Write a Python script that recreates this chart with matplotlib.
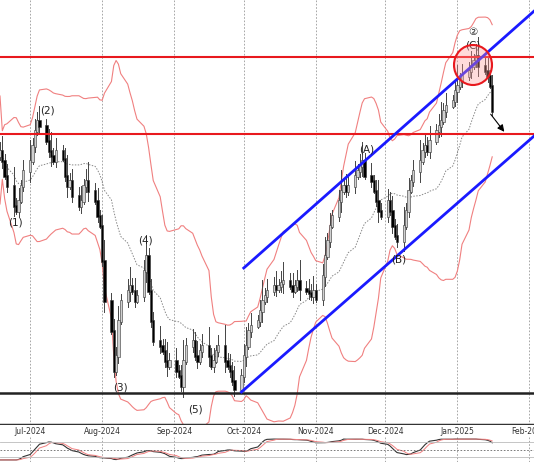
import numpy as np
import pandas as pd
import matplotlib
matplotlib.use("Agg")
import matplotlib.pyplot as plt
import matplotlib.dates as mdates
from matplotlib.patches import Ellipse

# closes, in chart units (screen-like: smaller = higher price)
closes = [150, 160, 175, 185, 205, 210, 200, 185, 170, 160,
          145, 130, 120, 125, 140, 150,
          155, 160, 150, 158, 175, 185, 180, 195, 205, 200, 185, 180, 190, 200, 215, 225,
          260, 300, 330, 370, 355, 320, 300, 290, 285, 290, 300, 295, 270, 255, 290, 320, 340, 345, 350, 360, 365, 360,
          370, 375, 385, 360, 345, 340, 355, 360, 350, 345, 355, 365, 360, 350, 345, 360, 365, 370, 380, 388,
          375, 355, 345, 330, 325, 320, 310, 300, 295, 290, 285, 288, 285, 282, 280, 285, 290, 285, 280, 288, 290, 292, 295,
          290, 298, 275, 255, 240, 225, 215, 200, 190, 185, 190, 185, 175, 170, 165, 160, 175, 180, 190, 200, 210,
          215, 200, 210, 225, 235, 240, 225, 210, 190, 180, 170, 160, 150, 145, 150, 140, 130, 125, 120, 110, 105,
          100, 90, 85, 80, 75, 70, 65, 60, 55, 65, 70, 75, 85, 110]
wicks = [8, 14, 6, 11, 18, 7, 12, 5, 10, 20, 7, 11]
dates = pd.bdate_range("2024-06-18", periods=len(closes))

months = ["2024-07-01", "2024-08-01", "2024-09-01", "2024-10-01", "2024-11-01",
          "2024-12-01", "2025-01-01", "2025-02-01"]
month_labels = ["Jul-2024", "Aug-2024", "Sep-2024", "Oct-2024", "Nov-2024",
                "Dec-2024", "Jan-2025", "Feb-2025"]

# horizontal levels and channel lines (chart units)
red_levels = [57, 134]
black_level = 393
chan_upper = (["2024-10-01", "2025-02-06"], [268, 5])
chan_lower = (["2024-09-30", "2025-02-06"], [392, 130])

waves = [("(1)", 15, 222), ("(2)", 47, 110), ("(3)", 120, 387), ("(4)", 145, 240),
         ("(5)", 195, 410), ("(A)", 367, 149), ("(B)", 399, 259), ("(C)", 473, 45),
         ("②", 473, 32)]

x0 = mdates.date2num(pd.Timestamp("2024-06-18"))
days_per_px = 230 / 534.0


def px(x):
    return x0 + x * days_per_px


fig = plt.figure(figsize=(5.34, 4.62), dpi=100)
ax = fig.add_axes([0, 37 / 462, 1, 425 / 462])
osc = fig.add_axes([0, 0, 1, 25 / 462])

xs = mdates.date2num(dates)
c = np.array(closes, dtype=float)
o = np.r_[c[0] + 5, c[:-1]]
for i, (xi, oi, ci) in enumerate(zip(xs, o, c)):
    w = wicks[i % len(wicks)]
    lo_px = max(oi, ci) + w * 0.6
    hi_px = min(oi, ci) - w
    ax.plot([xi, xi], [hi_px, lo_px], color="#444444", lw=0.7, zorder=3)
    up = ci < oi
    ax.bar(xi, abs(ci - oi) + 1.5, bottom=min(oi, ci), width=1.0,
           color="#d0d0d0" if up else "black", edgecolor="#333333", lw=0.4, zorder=4)

s = pd.Series(c)
mid = s.rolling(20, min_periods=1).mean()
sd = s.rolling(20, min_periods=2).std().fillna(20)
ax.plot(xs, mid, color="#888888", lw=0.7, ls=(0, (1.5, 1.5)), zorder=2)
ax.plot(xs, mid + 2.3 * sd + 8, color="#f08080", lw=0.8, zorder=2)
ax.plot(xs, mid - 2.3 * sd - 8, color="#f08080", lw=0.8, zorder=2)

for lv in red_levels:
    ax.axhline(lv, color="#e8191e", lw=1.5, zorder=5)
ax.axhline(black_level, color="#222222", lw=1.8, zorder=5)
for d, y in [chan_upper, chan_lower]:
    ax.plot(mdates.date2num(pd.to_datetime(d)), y, color="#1a1aff", lw=2, zorder=6)

for t, xp, yp in waves:
    ax.text(px(xp), yp, t, ha="center", va="center", fontsize=7.5, color="#222222", zorder=7)
ax.add_patch(Ellipse((px(473), 65), 38 * days_per_px, 40, fill=True,
                     facecolor=(1, 0.6, 0.6, 0.35), edgecolor="#e8191e", lw=1.5, zorder=7))
ax.annotate("", xy=(px(506), 134), xytext=(px(489), 112),
            arrowprops=dict(arrowstyle="-|>", color="black", lw=0.8), zorder=8)

mnum = mdates.date2num(pd.to_datetime(months))
for ax_ in (ax, osc):
    for m in mnum:
        ax_.axvline(m, color="#999999", lw=0.6, ls=(0, (2, 2)), zorder=1)
    ax_.set_xlim(px(0), px(534))
    ax_.set_xticks([])
    ax_.set_yticks([])
    for sp in ax_.spines.values():
        sp.set_visible(False)
ax.set_ylim(425, 0)
ax.axhline(425, color="#333333", lw=2.5)
for m, lab in zip(mnum, month_labels):
    ax.text(m, 431, lab, ha="center", va="center", fontsize=5.5, color="#333333", clip_on=False)

# oscillator from closes
price = -s
lo14 = price.rolling(20, min_periods=1).min()
hi14 = price.rolling(20, min_periods=1).max()
k = 100 * (price - lo14) / (hi14 - lo14).replace(0, 1)
k = k.rolling(8, min_periods=1).mean()
dline = k.rolling(4, min_periods=1).mean()
osc.plot(xs, k, color="#333333", lw=0.8)
osc.plot(xs, dline, color="#f08080", lw=0.7)
for lv in [15, 85]:
    osc.axhline(lv, color="#bbbbbb", lw=0.6)
osc.axhline(50, color="#666666", lw=0.6, ls=(0, (2, 2)))
osc.set_ylim(-10, 110)

fig.savefig("out.png", dpi=100)
